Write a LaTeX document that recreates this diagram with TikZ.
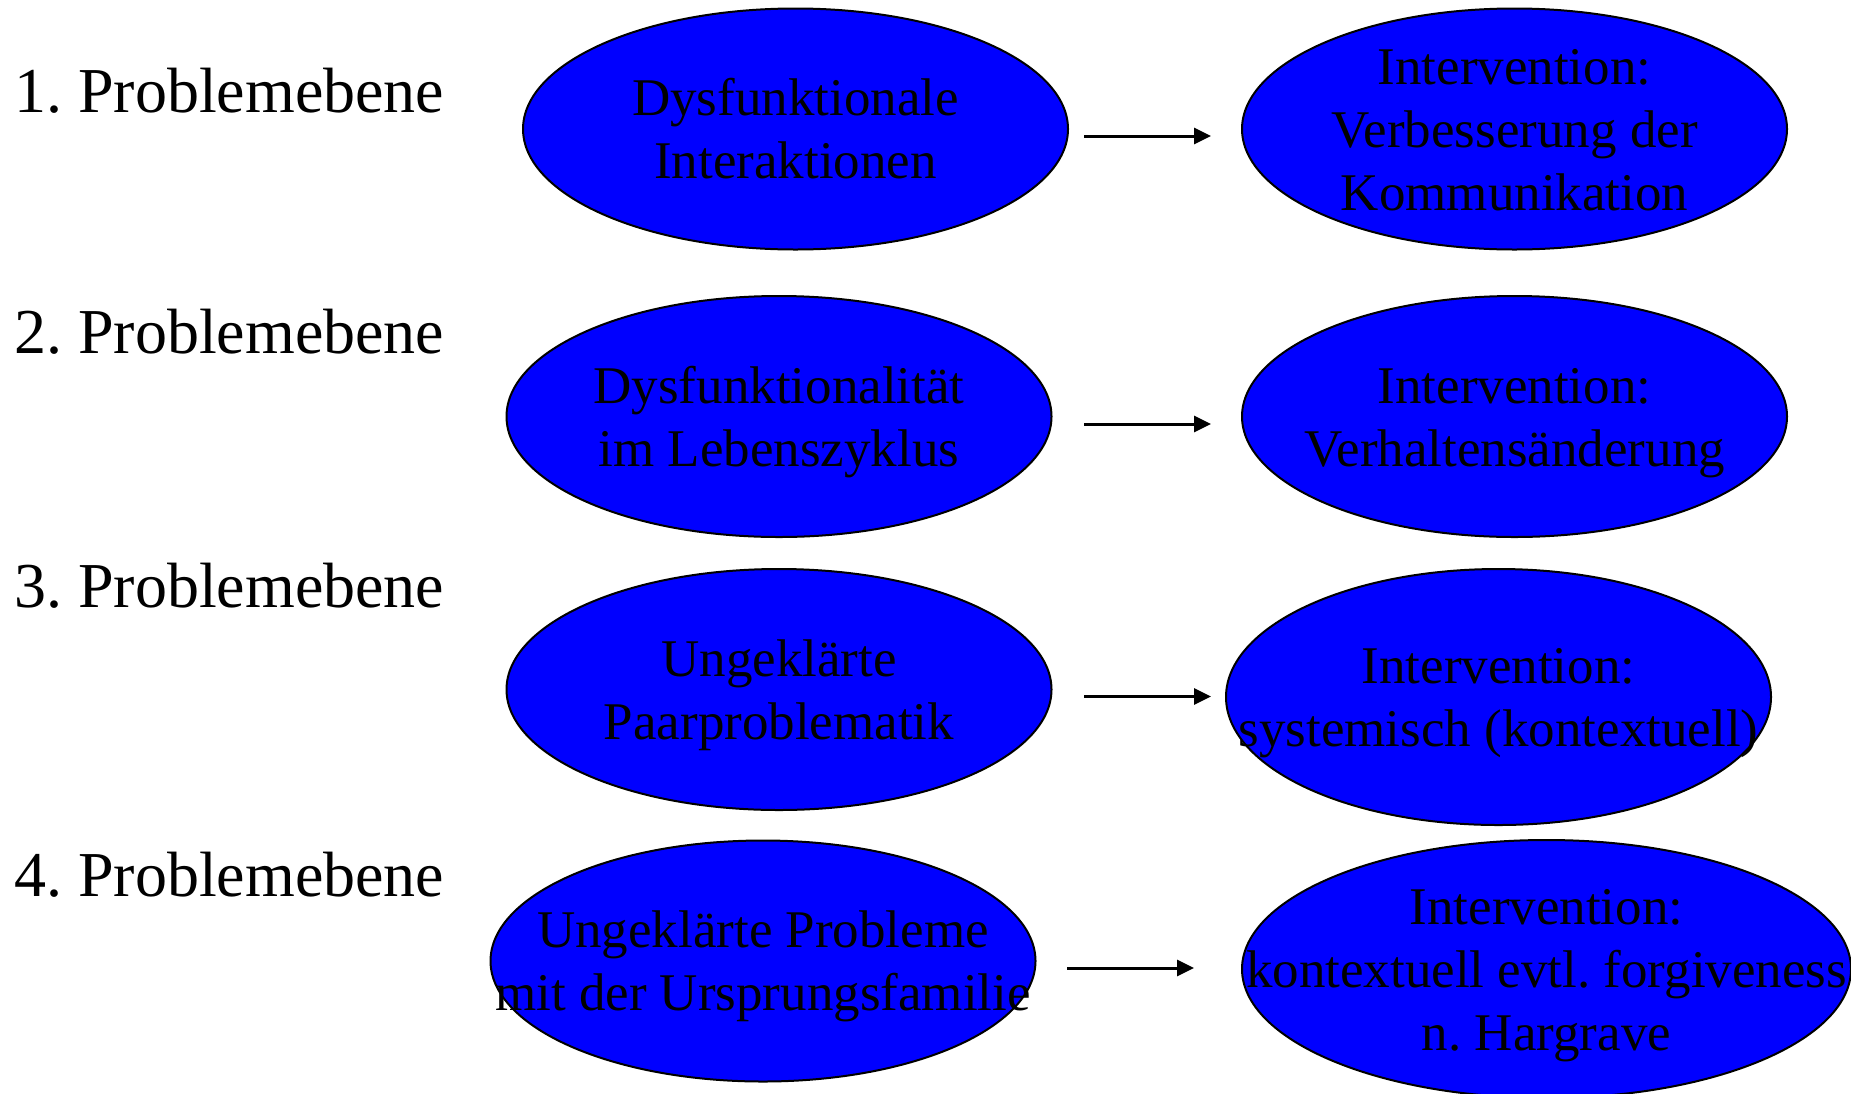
\documentclass[tikz,border=0pt]{standalone}
\usepackage{fontspec}
\setmainfont{Liberation Serif}
\usetikzlibrary{shapes.geometric,arrows.meta}
\newcommand{\mystrut}{\rule[-12pt]{0pt}{60pt}}
\frenchspacing
\tikzset{
  blob/.style={ellipse, draw=black, line width=2pt, fill={rgb,255:red,0;green,0;blue,255}, inner sep=0pt, minimum width=545pt, minimum height=241pt},
  blobtall/.style={blob, minimum height=256pt},
  txt/.style={align=center, inner sep=0pt, font=\fontsize{53}{63}\selectfont\frenchspacing, text=black},
  level/.style={anchor=base west, inner sep=0pt, font=\fontsize{64}{70}\selectfont\frenchspacing},
  conn/.style={line width=3pt, -{Triangle[length=17pt,width=16pt]}}
}
\begin{document}
\begin{tikzpicture}[x=1pt,y=-1pt]
\useasboundingbox (0,0) rectangle (1851,1093);
\clip (0,0) rectangle (1851,1093);

% level labels
\node[level] (P1) at (14,112) {1. Problemebene};
\node[level] (P2) at (14,353) {2. Problemebene};
\node[level] (P3) at (14,607) {3. Problemebene};
\node[level] (P4) at (14,896) {4. Problemebene};

% ellipses
\node[blob] (L1) at (795.5,129) {};
\node[blob] (R1) at (1514.5,129) {};
\node[blob] (L2) at (779,416.5) {};
\node[blob] (R2) at (1514.5,416.5) {};
\node[blob] (L3) at (779,689.5) {};
\node[blobtall] (R3) at (1498.5,697) {};
\node[blob] (L4) at (763,961) {};
\node[blobtall, minimum width=609pt, minimum height=258pt] (R4) at (1546.5,969) {};

% texts
\node[txt] (L1t) at (L1) {\mystrut Dysfunktionale\\\mystrut Interaktionen};
\node[txt] (R1t) at (R1) {\mystrut Intervention:\\\mystrut Verbesserung der\\\mystrut Kommunikation};
\node[txt] (L2t) at (L2) {\mystrut Dysfunktionalität\\\mystrut im Lebenszyklus};
\node[txt] (R2t) at (R2) {\mystrut Intervention:\\\mystrut Verhaltensänderung};
\node[txt] (L3t) at (L3) {\mystrut Ungeklärte\\\mystrut Paarproblematik};
\node[txt] (R3t) at (R3) {\mystrut Intervention:\\\mystrut systemisch (kontextuell)};
\node[txt] (L4t) at (L4) {\mystrut Ungeklärte Probleme\\\mystrut mit der Ursprungsfamilie};
\node[txt] (R4t) at (R4) {\mystrut Intervention:\\\mystrut kontextuell evtl. forgiveness\\\mystrut n. Hargrave};

% connectors
\coordinate (a1s) at (1084,136);
\coordinate (a1e) at (1211,136);
\coordinate (a2s) at (1084,424);
\coordinate (a2e) at (1211,424);
\coordinate (a3s) at (1084,696.5);
\coordinate (a3e) at (1211,696.5);
\coordinate (a4s) at (1067,968);
\coordinate (a4e) at (1194,968);
\draw[conn] (a1s) -- (a1e);
\draw[conn] (a2s) -- (a2e);
\draw[conn] (a3s) -- (a3e);
\draw[conn] (a4s) -- (a4e);
\end{tikzpicture}
\end{document}
